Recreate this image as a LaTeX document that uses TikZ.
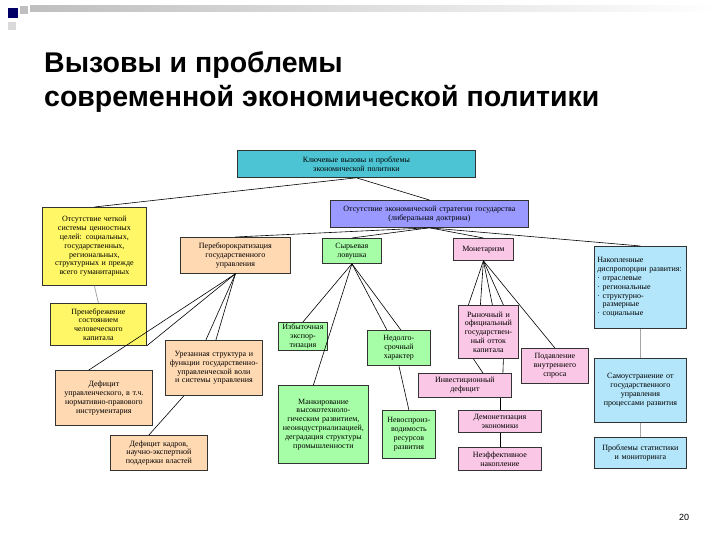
\documentclass[tikz,border=0pt]{standalone}
\usepackage{fontspec}
\setmainfont{Liberation Serif}
\newfontfamily\titlefont{Liberation Sans}
\begin{document}
\begin{tikzpicture}[x=1pt,y=-1pt,
  box/.style={draw=black!80, line width=0.8pt, align=center, font=\fontsize{8}{8.8}\selectfont, inner sep=1pt, anchor=north west},
  ln/.style={draw=black, line width=0.6pt},
  gl/.style={draw=gray!70, line width=0.8pt}]
\useasboundingbox (0,0) rectangle (720,540);
\fill[white] (0,0) rectangle (720,540);
% decoration
\fill[blue!40!black] (8,8) rectangle (18,18);
\fill[gray!50] (20,6) rectangle (28,14);
\shade[left color=gray!50, right color=white] (30,6) rectangle (720,12);
\fill[gray!30] (8,22) rectangle (16,30);
\node[anchor=west, font=\titlefont\bfseries\fontsize{28.5}{34}\selectfont, align=left, inner sep=0pt] (t) at (44,82) {Вызовы и проблемы\\современной экономической политики};
\node[font=\titlefont\fontsize{9}{10}\selectfont] (pg) at (684,517) {20};
% boxes
\node[box, fill=cyan!75!green!70, minimum width=238, minimum height=27, text width=150] (top) at (237,150) {Ключевые вызовы и проблемы\\экономической политики};
\node[box, fill=blue!40, minimum width=198, minimum height=27, text width=194] (str) at (330,200) {Отсутствие экономической стратегии государства\\(либеральная доктрина)};
\node[box, fill=yellow!60, minimum width=104, minimum height=78, text width=98] (y1) at (42,207) {Отсутствие четкой системы ценностных целей: социальных, государственных, региональных, структурных и прежде всего гуманитарных};
\node[box, fill=yellow!60, minimum width=96, minimum height=42, text width=80] (y2) at (50,303) {Пренебрежение состоянием человеческого капитала};
\node[box, fill=orange!30, minimum width=110, minimum height=36, text width=100] (s1) at (180,237) {Перебюрократизация государственного управления};
\node[box, fill=orange!30, minimum width=97, minimum height=55, text width=95] (s2) at (165,340) {Урезанная структура и функции государственно-управленческой воли и системы управления};
\node[box, fill=orange!30, minimum width=97, minimum height=55, text width=86] (s3) at (55,370) {Дефицит управленческого, в т.ч. нормативно-правового инструментария};
\node[box, fill=orange!30, minimum width=97, minimum height=35, text width=93] (s4) at (110,435) {Дефицит кадров, научно-экспертной поддержки властей};
\node[box, fill=green!35, minimum width=59, minimum height=25, text width=56] (g1) at (322,238) {Сырьевая\\ловушка};
\node[box, fill=green!35, minimum width=49, minimum height=28, text width=46] (g2) at (278,322) {Избыточная экспор-\\тизация};
\node[box, fill=green!35, minimum width=63, minimum height=35, text width=56] (g3) at (367,330) {Недолго-\\срочный характер};
\node[box, fill=green!35, minimum width=90, minimum height=78, text width=88] (g4) at (278,385) {Манкирование высокотехноло-гическим развитием, неоиндустриализацией, деградация структуры промышленности};
\node[box, fill=green!35, minimum width=53, minimum height=48, text width=50] (g5) at (382,410) {Невоспроиз-\\водимость ресурсов развития};
\node[box, fill=magenta!22, minimum width=60, minimum height=22, text width=56] (p1) at (453,238) {Монетаризм};
\node[box, fill=magenta!22, minimum width=59, minimum height=53, text width=58] (p2) at (458,305) {Рыночный и официальный государствен-\\ный отток капитала};
\node[box, fill=magenta!22, minimum width=93, minimum height=24, text width=70] (p3) at (418,373) {Инвестиционный дефицит};
\node[box, fill=magenta!22, minimum width=67, minimum height=35, text width=60] (p4) at (521,348) {Подавление внутреннего спроса};
\node[box, fill=magenta!22, minimum width=83, minimum height=22, text width=64] (p5) at (458,410) {Демонетизация экономики};
\node[box, fill=magenta!22, minimum width=83, minimum height=23, text width=80] (p6) at (458,447) {Неэффективное накопление};
\node[box, fill=cyan!30, minimum width=92, minimum height=82, text width=86, align=left] (b1) at (594,246) {Накопленные диспропорции развития:\\· отраслевые\\· региональные\\· структурно-\\\ \ размерные\\· социальные};
\node[box, fill=cyan!30, minimum width=92, minimum height=64, text width=90] (b2) at (594,358) {Самоустранение от государственного управления процессами развития};
\node[box, fill=cyan!30, minimum width=92, minimum height=31, text width=80] (b3) at (594,437) {Проблемы статистики и мониторинга};
% connectors
\draw[ln] (top.south) -- (y1.north);
\draw[ln] (top.south) -- (str.north);
\draw[ln] (str.south) -- (s1.north);
\draw[ln] (str.south) -- (g1.north);
\draw[ln] (str.south) -- (p1.north);
\draw[ln] (str.south) -- (b1.north);
\draw[gl] (y1.south) -- (y2.north);
\draw[ln] (s1.south) -- (y2.south east);
\draw[ln] (s1.south) -- ([xshift=-15]s3.north);
\draw[ln] (s1.south) -- ([xshift=-8]s2.north);
\draw[ln] (s1.south) -- ([xshift=2]s2.north);
\draw[ln] ([xshift=-30]s2.south) -- ([xshift=-10]s4.north);
\draw[ln] (g1.south) -- (g2.north);
\draw[ln] (g1.south) -- ([xshift=-10]g4.north);
\draw[ln] (g1.south) -- ([xshift=-12]g3.north);
\draw[ln] (g1.south) -- ([xshift=2]g3.north);
\draw[ln] (g3.south) -- (g5.north);
\draw[ln] (p1.south) -- ([xshift=-20]p2.north);
\draw[ln] (p1.south) -- ([xshift=-8]p2.north);
\draw[ln] (p1.south) -- ([xshift=4]p2.north);
\draw[ln] (p1.south) -- ([xshift=15]p2.north);
\draw[ln] (p1.south) -- (p4.north);
\draw[ln] ([xshift=-15]p2.south) -- ([xshift=18]p3.north);
\draw[ln] ([xshift=15]p2.south) -- ([xshift=38]p3.north);
\draw[ln] ([xshift=35]p3.south) -- (p5.north);
\draw[ln] (p5.south) -- (p6.north);
\draw[gl] (b1.south) -- (b2.north);
\draw[gl] (b2.south) -- (b3.north);
\end{tikzpicture}
\end{document}
